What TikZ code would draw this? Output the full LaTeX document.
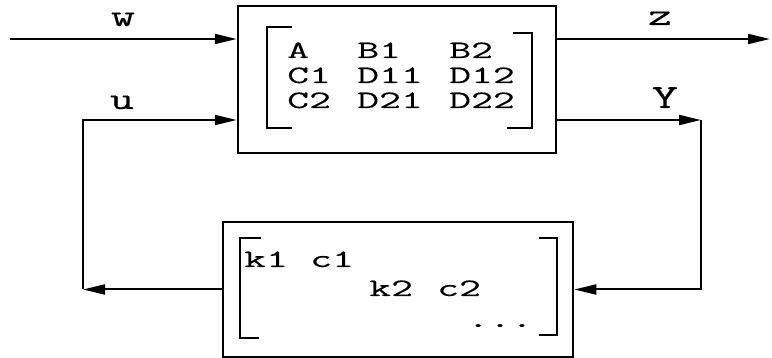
\documentclass[tikz,border=0pt]{standalone}
\usepackage{fontspec}
\usetikzlibrary{arrows.meta}
\newfontfamily\monofont[FakeStretch=1.7,FakeBold=0.3]{Latin Modern Mono}
\newfontfamily\labelfont[FakeStretch=1.5,FakeBold=0.3]{Latin Modern Mono}

\tikzset{
  block/.style={draw, line width=2.5pt, inner sep=0pt},
  entry/.style={anchor=base west, inner sep=0pt, font=\monofont\fontsize{25}{25}\selectfont},
  signal/.style={anchor=base, inner sep=0pt, font=\labelfont\fontsize{31}{31}\selectfont},
  wire/.style={line width=2pt, -{Triangle[length=22pt,width=10pt]}},
  brack/.style={line width=2pt}
}

\begin{document}
\begin{tikzpicture}[x=1pt,y=-1pt]
    \useasboundingbox (0,0) rectangle (772,358);
    % blocks
    \node[block, minimum width=318pt, minimum height=147pt] (plant) at (397,79.5) {};
    \node[block, minimum width=350pt, minimum height=135pt] (ctrl) at (398,289.5) {};
    % plant matrix
    \foreach \r/\y/\ea/\eb/\ec in {1/58/A/B1/B2, 2/83/C1/D11/D12, 3/108/C2/D21/D22} {
        \node[entry] (p\r a) at (287,\y) {\ea};
        \node[entry] (p\r b) at (357,\y) {\eb};
        \node[entry] (p\r c) at (449,\y) {\ec};
    }
    \draw[brack] (292,27) -- (267,27) -- (267,128) -- (292,128);
    \draw[brack] (513,33) -- (532,33) -- (532,128) -- (507,128);
    % controller matrix
    \node[entry] (k1) at (244,267) {k1};
    \node[entry] (c1) at (310,267) {c1};
    \node[entry] (k2) at (369,296) {k2};
    \node[entry] (c2) at (437,296) {c2};
    \node[entry] (dots) at (467,327) {...};
    \draw[brack] (261,238) -- (240,238) -- (240,338) -- (259,338);
    \draw[brack] (539,238) -- (557,238) -- (557,335) -- (539,335);
    % signals
    \coordinate (win) at (10,39);
    \coordinate (zout) at (770,39);
    \coordinate (ubend) at (83,120);
    \coordinate (ybend) at (701,120);
    \draw[wire] (win) -- (win -| plant.west);
    \draw[wire] (zout -| plant.east) -- (zout);
    \draw[wire] (ctrl.west) -- (ctrl.west -| ubend);
    \draw[wire] (ctrl.west -| ubend) -- (ubend) -- (ubend -| plant.west);
    \draw[wire] (ybend -| plant.east) -- (ybend);
    \draw[wire] (ybend) |- (ctrl.east);
    % labels
    \node[signal] (wlab) at (123,26) {w};
    \node[signal] (zlab) at (660,25) {z};
    \node[signal] (ulab) at (122,109) {u};
    \node[signal, font=\labelfont\fontsize{34}{36}\selectfont] (ylab) at (665,108) {Y};
\end{tikzpicture}
\end{document}
